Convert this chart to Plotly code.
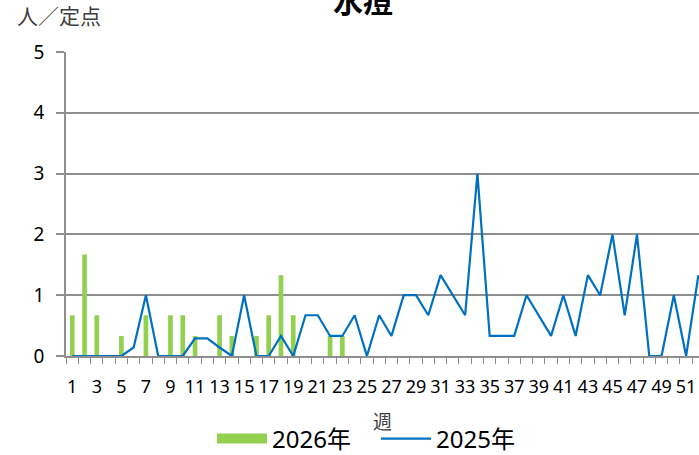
import plotly.graph_objects as go

weeks = list(range(1, 53))
tick_weeks = list(range(1, 52, 2))
weeks_2026 = list(range(1, 24))
values_2026 = [0.67, 1.67, 0.67, 0, 0.33, 0, 0.67, 0, 0.67, 0.67,
               0.33, 0, 0.67, 0.33, 0, 0.33, 0.67, 1.33, 0.67, 0,
               0, 0.33, 0.33]
values_2025 = [0, 0, 0, 0, 0, 0.14, 1, 0, 0, 0,
               0.29, 0.29, 0.14, 0, 1, 0, 0, 0.33, 0, 0.67,
               0.67, 0.33, 0.33, 0.67, 0, 0.67, 0.33, 1, 1, 0.67,
               1.33, 1, 0.67, 3, 0.33, 0.33, 0.33, 1, 0.67, 0.33,
               1, 0.33, 1.33, 1, 2, 0.67, 2, 0, 0, 1,
               0, 1.33]
y_ticks = [0, 1, 2, 3, 4, 5]

FONT = "Noto Sans, Noto Sans CJK JP, sans-serif"
GREEN = "#92D050"
BLUE = "#0070C0"
GRID = "#8e8e8e"

fig = go.Figure()
fig.add_trace(go.Bar(x=weeks_2026, y=values_2026, name="2026年",
                     marker=dict(color=GREEN, line=dict(width=0)),
                     width=0.38, showlegend=False))
# legend entry for the bar series (wide green swatch)
fig.add_trace(go.Scatter(x=[None], y=[None], mode="lines", name="2026年",
                         line=dict(color=GREEN, width=15), hoverinfo="skip"))
fig.add_trace(go.Scatter(x=weeks, y=values_2025, mode="lines", name="2025年",
                         line=dict(color=BLUE, width=2.2), cliponaxis=False))

fig.update_layout(
    width=699, height=455,
    margin=dict(l=66, r=0, t=52, b=99, autoexpand=False),
    paper_bgcolor="white", plot_bgcolor="white",
    font=dict(family=FONT, color="#000000"),
    title=dict(text="<b>水痘</b>", x=363/699, xanchor="center", xref="container",
               y=0.996, yanchor="middle", yref="container",
               font=dict(size=30, color="#000000", family="Noto Sans CJK JP")),
    showlegend=True,
    legend=dict(orientation="h", x=(212-66)/633, xanchor="left", y=-0.273, yanchor="middle",
                font=dict(size=24, family=FONT), bgcolor="rgba(0,0,0,0)",
                traceorder="normal", itemwidth=50, entrywidth=99, entrywidthmode="pixels"),
    annotations=[
        dict(text="人／定点", x=(58.5-66)/633, y=(355.7-15.5)/303.7, xref="paper", yref="paper",
             xanchor="center", yanchor="middle", showarrow=False,
             font=dict(size=21, color="#404040", family="Noto Sans CJK JP"))
    ],
)

fig.update_xaxes(
    range=[0.49, 52.05], tickmode="array", tickvals=tick_weeks,
    ticktext=[str(w) for w in tick_weeks], ticks="", ticklabelstandoff=14,
    tickfont=dict(size=18, family=FONT, color="#000000"),
    showline=True, linecolor=GRID, linewidth=1.5, showgrid=False, zeroline=False,
    minor=dict(ticks="outside", tick0=0.5, dtick=1, ticklen=6, tickcolor=GRID, tickwidth=1, showgrid=False),
    title=dict(text="週", standoff=18, font=dict(size=19, color="#404040", family="Noto Sans CJK JP")),
)
fig.update_yaxes(
    range=[0, 5], tickmode="array", tickvals=y_ticks, ticks="outside", ticklen=8,
    tickcolor=GRID, tickwidth=1.5, ticklabelstandoff=8,
    tickfont=dict(size=19, family=FONT, color="#000000"),
    showgrid=True, gridcolor=GRID, gridwidth=1.5,
    showline=True, linecolor=GRID, linewidth=1.5, zeroline=False,
)

fig.write_html("out.html", config={"displayModeBar": False},
               post_script="document.body.style.margin='0';document.body.style.overflow='hidden';")
